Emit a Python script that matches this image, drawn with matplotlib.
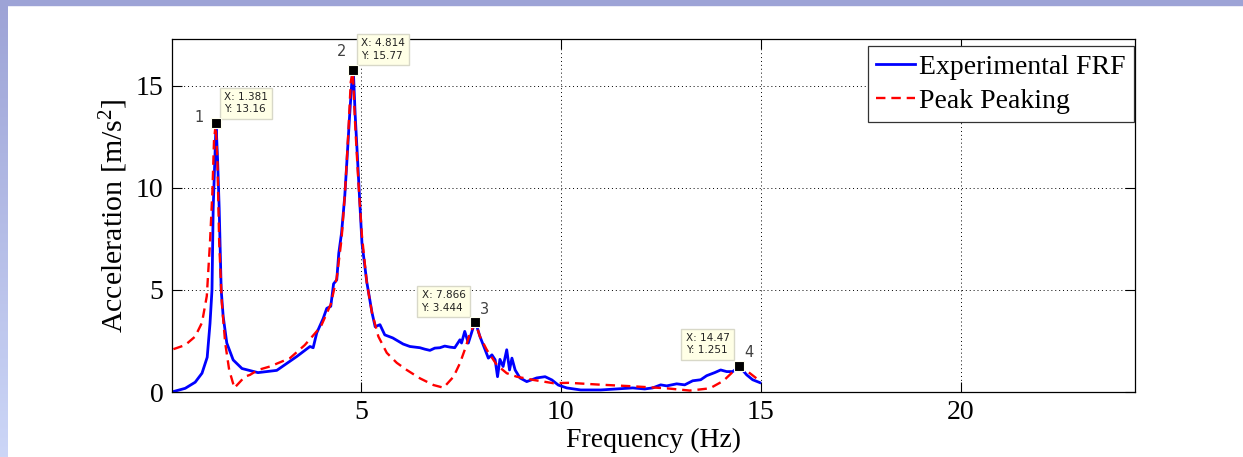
import numpy as np
import matplotlib
matplotlib.use('Agg')
import matplotlib.pyplot as plt
from matplotlib.patches import Rectangle

plt.rcParams['font.family'] = 'Liberation Serif'
plt.rcParams['mathtext.fontset'] = 'custom'
plt.rcParams['mathtext.rm'] = 'Liberation Serif'
plt.rcParams['mathtext.it'] = 'Liberation Serif:italic'

# ------------------- DATA -------------------
exp_freq = [0.275, 0.61, 0.86, 1.03, 1.16, 1.23, 1.28, 1.31, 1.36, 1.381, 1.42, 1.46,
            1.51, 1.56, 1.65, 1.81, 2.03, 2.43, 2.9, 3.4, 3.73, 3.81, 3.9, 4.06, 4.15,
            4.25, 4.32, 4.4, 4.45, 4.52, 4.6, 4.65, 4.72, 4.77, 4.79, 4.814, 4.86, 4.92,
            4.97, 5.03, 5.15, 5.28, 5.36, 5.48, 5.6, 5.8, 6.06, 6.23, 6.48, 6.6, 6.73,
            6.85, 6.98, 7.1, 7.23, 7.35, 7.48, 7.52, 7.6, 7.69, 7.81, 7.866, 7.98, 8.11,
            8.19, 8.28, 8.36, 8.42, 8.48, 8.56, 8.65, 8.72, 8.78, 8.86, 8.98, 9.15, 9.4,
            9.61, 9.78, 9.94, 10.15, 10.5, 11.0, 11.4, 11.8, 12.1, 12.3, 12.5, 12.65,
            12.9, 13.1, 13.3, 13.5, 13.65, 13.85, 14.0, 14.15, 14.3, 14.47, 14.65, 14.8,
            14.98]
exp_acc = [0.0, 0.18, 0.48, 0.92, 1.7, 3.35, 5.0, 9.0, 11.9, 13.16, 11.4, 9.0,
           5.0, 3.7, 2.4, 1.57, 1.15, 0.95, 1.06, 1.74, 2.23, 2.17, 2.9, 3.6, 4.1,
           4.2, 5.3, 5.5, 6.8, 7.8, 9.6, 11.2, 13.5, 15.0, 15.6, 15.77, 13.6, 11.4,
           9.5, 7.3, 5.4, 3.9, 3.2, 3.3, 2.8, 2.65, 2.35, 2.23, 2.17, 2.1, 2.04,
           2.15, 2.17, 2.25, 2.2, 2.17, 2.56, 2.4, 2.97, 2.4, 3.15, 3.444, 2.72, 2.07,
           1.66, 1.82, 1.58, 0.75, 1.6, 1.25, 2.07, 1.08, 1.66, 1.08, 0.69, 0.51, 0.69,
           0.75, 0.59, 0.34, 0.2, 0.1, 0.1, 0.15, 0.2, 0.15, 0.2, 0.35, 0.3,
           0.4, 0.35, 0.55, 0.6, 0.8, 0.95, 1.08, 1.0, 1.0, 1.251, 0.84, 0.6,
           0.46]

pp_freq = [0.315, 0.61, 0.86, 1.03, 1.15, 1.23, 1.29, 1.33, 1.37, 1.415, 1.46, 1.525,
           1.61, 1.71, 1.84, 2.1, 2.23, 2.43, 2.73, 3.23, 3.6, 4.0, 4.25, 4.4, 4.52,
           4.61, 4.69, 4.75, 4.8, 4.86, 4.94, 5.03, 5.15, 5.28, 5.44, 5.65, 5.9, 6.15,
           6.48, 6.82, 7.07, 7.32, 7.48, 7.63, 7.73, 7.866, 7.98, 8.15, 8.4, 8.65, 8.9,
           9.32, 9.82, 10.2, 10.98, 11.8, 12.65, 13.23, 13.73, 14.07, 14.31, 14.47,
           14.73, 14.94, 15.0]
pp_acc = [2.1, 2.3, 2.72, 3.4, 4.7, 7.33, 9.8, 12.3, 13.1, 11.4, 7.33, 4.4,
          2.4, 1.08, 0.2, 0.75, 0.84, 1.08, 1.25, 1.66, 2.3, 3.2, 4.3, 5.6, 7.5,
          9.9, 12.75, 15.2, 15.7, 13.1, 10.3, 7.65, 5.37, 3.89, 2.72, 1.92, 1.43, 1.08,
          0.67, 0.34, 0.21, 0.75, 1.41, 2.23, 2.89, 3.4, 2.72, 2.07, 1.33, 0.92, 0.75,
          0.59, 0.43, 0.45, 0.36, 0.28, 0.18, 0.07, 0.18, 0.55, 1.0, 1.28,
          0.92, 0.6, 0.55]

# data tips: x, y, label
tip_x = [1.381, 4.814, 7.866, 14.47]
tip_y = [13.16, 15.77, 3.444, 1.251]
tip_names = ['1', '2', '3', '4']


def main():
    fig = plt.figure(figsize=(12.43, 4.57), dpi=100)

    # slide background strips (left gradient, top band)
    bg = fig.add_axes([0, 0, 8 / 1243, 1])
    grad = np.linspace(0, 1, 256).reshape(-1, 1)
    cmap = matplotlib.colors.LinearSegmentedColormap.from_list('bg', ['#9da3d6', '#ccd6f7'])
    bg.imshow(grad, aspect='auto', cmap=cmap, extent=[0, 1, 1, 0])
    bg.set_axis_off()
    fig.patches.append(Rectangle((0, 1 - 5 / 457), 1, 5 / 457, transform=fig.transFigure,
                                 color='#9da3d6', zorder=-1))

    ax = fig.add_axes([172 / 1243, 65 / 457, (1135 - 172) / 1243, (392 - 39) / 457])
    ax.plot(exp_freq, exp_acc, color='#0000ff', lw=2.0, label='Experimental FRF')
    ax.plot(pp_freq, pp_acc, color='#ff0000', lw=1.7, ls=(0, (4, 2.5)), label='Peak Peaking')

    ax.set_xlim(0.28, 24.36)
    ax.set_ylim(0, 17.3)
    ax.set_xticks([5, 10, 15, 20])
    ax.set_yticks([0, 5, 10, 15])
    ax.tick_params(direction='in', length=7, width=0.8, top=True, right=True,
                   labelsize=20, pad=6)
    ax.grid(True, color='black', ls=(0, (1, 3)), lw=0.7)
    for s in ax.spines.values():
        s.set_linewidth(0.9)

    ax.set_xlabel('Frequency (Hz)', fontsize=20, labelpad=2)
    ax.set_ylabel('Acceleration [m/s$^{2}$]', fontsize=21.5, labelpad=4)

    leg = ax.legend(loc='upper right', bbox_to_anchor=(0.999, 0.98), fontsize=20,
                    fancybox=False, framealpha=1, edgecolor='#333333',
                    handlelength=1.4, handletextpad=0.15, borderpad=0.3,
                    labelspacing=0.3, borderaxespad=0)
    leg.get_frame().set_linewidth(0.9)

    # data tips
    ax.plot(tip_x, tip_y, 's', color='black', ms=6.5, mec='#fffff0', mew=0.8,
            zorder=7, clip_on=False)
    tip_off = [(8, 9, 'left'), (8, 9, 'left'), (-10, 9, 'right'), (-10, 11, 'right')]
    name_off = [(-17, 6), (-12, 19), (9, 12), (9, 14)]
    for i in range(len(tip_x)):
        dx, dy, ha = tip_off[i]
        ax.annotate('X: %s\nY: %s' % (tip_x[i], tip_y[i]), (tip_x[i], tip_y[i]),
                    xytext=(dx, dy), textcoords='offset pixels', ha=ha, va='bottom',
                    multialignment='left',
                    fontsize=7.5, family='DejaVu Sans', color='#222222', linespacing=1.35,
                    bbox=dict(boxstyle='square,pad=0.4', fc='#ffffe6', ec='#d8d8c8', lw=1),
                    annotation_clip=False, zorder=6)
        nx, ny = name_off[i]
        ax.annotate(tip_names[i], (tip_x[i], tip_y[i]), xytext=(nx, ny),
                    textcoords='offset pixels', ha='center', va='center',
                    fontsize=10.5, family='DejaVu Sans', color='#404040',
                    annotation_clip=False)

    fig.savefig('out.png', dpi=100)


main()
